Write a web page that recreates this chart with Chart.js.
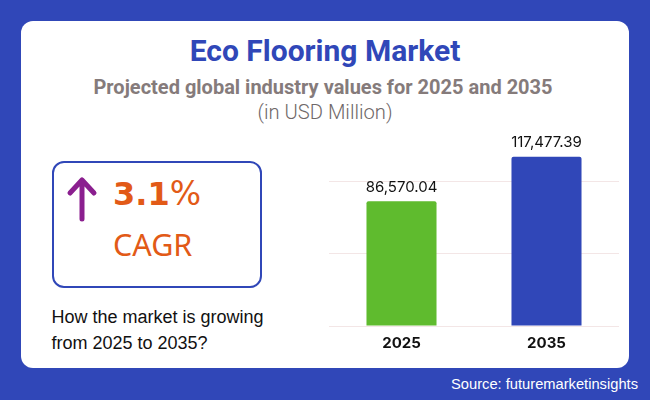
<!DOCTYPE html>
<html>
<head>
    <title>Eco Flooring Market</title>
    <script src="https://cdn.jsdelivr.net/npm/chart.js"></script>
    <style>
        html, body { margin: 0; padding: 0; }
        body { width: 650px; height: 400px; background: #3047b8; position: relative; overflow: hidden; }
        #card { position: absolute; left: 21px; top: 21px; width: 608px; height: 347px; background: #fff; border-radius: 12px; }
        .txt { position: absolute; white-space: nowrap; }
        .center { left: 0; width: 650px; text-align: center; }
        #title { top: 34px; font: bold 30px/34px Roboto; color: #3047b8; }
        #sub { top: 74px; left: -2px; font: bold 20px/26px Roboto; color: #857b7b; }
        #unit { top: 99px; font: 300 20.2px/26px Roboto; color: #6f6868; }
        #box { position: absolute; left: 52px; top: 161px; width: 206px; height: 123px; border: 2px solid #3047b8; border-radius: 12px; }
        #pct { left: 113px; top: 173px; font: bold 32px/42px "DejaVu Sans"; color: #e25a17; }
        #pct span { font-weight: normal; font-size: 33px; }
        #cagr { left: 113px; top: 224px; font: 30.5px/40px "Noto Sans"; color: #e25a17; }
        #q { left: 51.5px; top: 304px; font: 18px/26px "Liberation Sans"; color: #111; }
        #src { right: 12px; top: 375px; font: 14.7px/18px "Liberation Sans"; color: #fff; }
        #arrow { position: absolute; left: 60px; top: 170px; }
        #wrap { position: absolute; left: 329px; top: 133px; width: 290px; height: 227px; }
    </style>
</head>
<body>
    <div id="card"></div>
    <div class="txt center" id="title">Eco Flooring Market</div>
    <div class="txt center" id="sub">Projected global industry values for 2025 and 2035</div>
    <div class="txt center" id="unit">(in USD Million)</div>
    <div id="box"></div>
    <svg id="arrow" width="44" height="56">
        <path d="M22 49 V10 M10 23 L22 10 L34 23" fill="none" stroke="#8b1f8f" stroke-width="5" stroke-linecap="round" stroke-linejoin="round"/>
    </svg>
    <div class="txt" id="pct">3.1<span>%</span></div>
    <div class="txt" id="cagr">CAGR</div>
    <div class="txt" id="q">How the market is growing<br>from 2025 to 2035?</div>
    <div class="txt" id="src">Source: futuremarketinsights</div>
    <div id="wrap"><canvas id="myChart"></canvas></div>
    <script>
        const years = ['2025', '2035'];
        const marketValues = [86570.04, 117477.39];
        const valueLabels = ['86,570.04', '117,477.39'];
        const gridValues = [0, 50000, 100000];
        const barColors = ['#5fbb2e', '#3047b8'];

        // labels above the bars
        const barLabels = {
            id: 'barLabels',
            afterDatasetsDraw(chart) {
                const ctx = chart.ctx;
                ctx.save();
                ctx.font = '15px Inter';
                ctx.fillStyle = '#111';
                ctx.textAlign = 'center';
                ctx.textBaseline = 'bottom';
                chart.getDatasetMeta(0).data.forEach((bar, i) => {
                    ctx.fillText(valueLabels[i], bar.x, bar.y - 6.5);
                });
                ctx.restore();
            }
        };

        const ctx = document.getElementById('myChart').getContext('2d');
        const myChart = new Chart(ctx, {
            type: 'bar',
            plugins: [barLabels],
            data: {
                labels: years,
                datasets: [{
                    data: marketValues,
                    backgroundColor: barColors,
                    borderRadius: { topLeft: 2, topRight: 2 },
                    borderSkipped: 'bottom',
                    barPercentage: 0.483,
                    categoryPercentage: 1
                }]
            },
            options: {
                responsive: true,
                maintainAspectRatio: false,
                animation: false,
                layout: { padding: { top: 20 } },
                plugins: { legend: { display: false }, tooltip: { enabled: false } },
                scales: {
                    x: {
                        grid: { display: false },
                        border: { display: false },
                        ticks: { color: '#111', font: { family: 'Inter', size: 15, weight: 'bold' }, padding: 0 },
                        afterFit(scale) { scale.height = 34; }
                    },
                    y: {
                        min: 0,
                        max: 120000,
                        afterFit(scale) { scale.width = 0; },
                        afterBuildTicks(scale) { scale.ticks = gridValues.map(v => ({ value: v })); },
                        ticks: { display: false },
                        border: { display: false },
                        grid: { color: '#f3e6e6', drawTicks: false }
                    }
                }
            }
        });
    </script>
</body>
</html>
